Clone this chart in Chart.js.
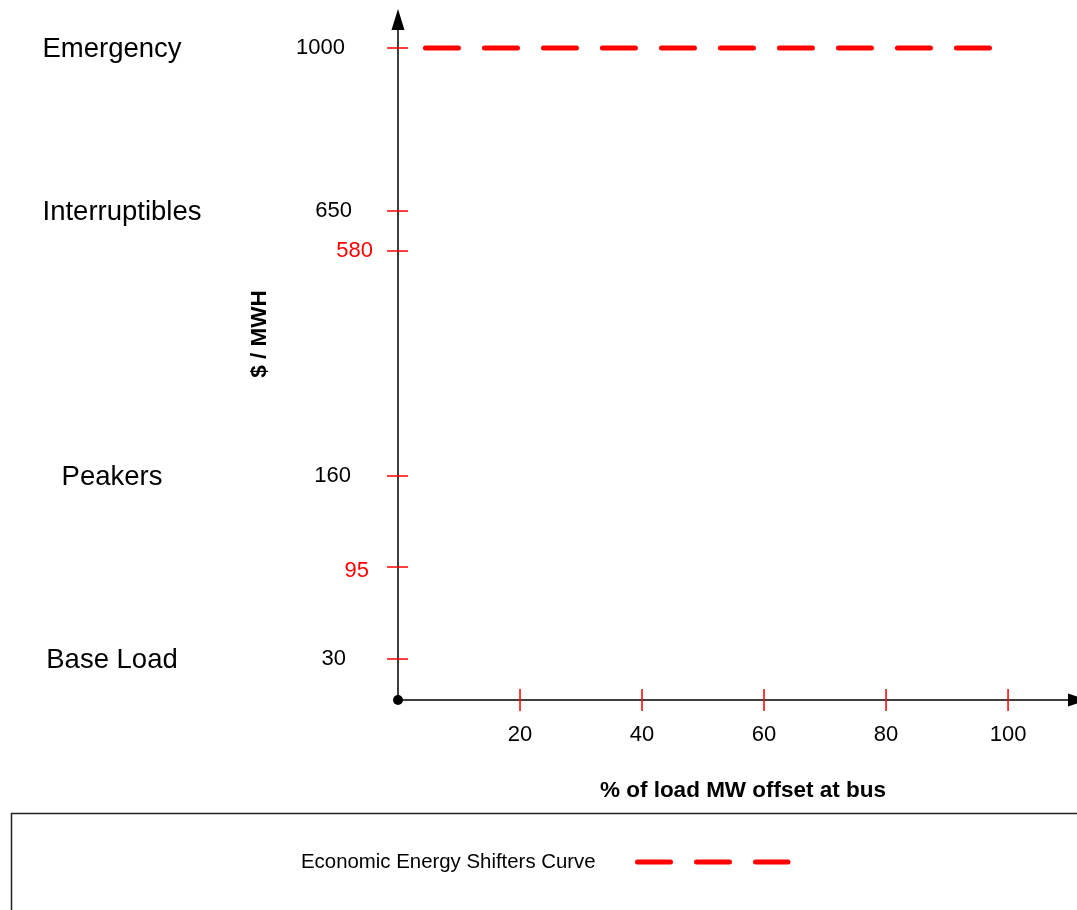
<!DOCTYPE html>
<html>
<head>
<meta charset="utf-8">
<script src="https://cdn.jsdelivr.net/npm/chart.js@4/dist/chart.umd.min.js"></script>
<style>
  body { margin: 0; background: #fff; }
  #wrap { width: 1077px; height: 910px; }
</style>
</head>
<body>
<div id="wrap"><canvas id="supplyChart" width="1077" height="910"></canvas></div>
<script>
// データ
const tierNames = ['Base Load', 'Peakers', 'Interruptibles', 'Emergency'];
const tierPrices = [30, 160, 650, 1000];
const markerPrices = [95, 580];          // 赤で示す価格
const xTicks = [20, 40, 60, 80, 100];
const curveLoad = [4.5, 97];             // % of load
const curvePrice = [1000, 1000];         // $ / MWH

// 軸の区切り（値 → 軸上の割合）、元の図の非線形な目盛に合わせる
const axisValues = [0, 30, 95, 160, 580, 650, 1000, 1120];
const axisFracs = [0, 0.0593, 0.1925, 0.3242, 0.6498, 0.7077, 0.9436, 1];

const FONT = '"Liberation Sans", Arial, sans-serif';
const RED = '#ff0000';

// 区分線形のスケール
class PiecewiseScale extends Chart.LinearScale {
    getPixelForValue(value) {
        let i = 1;
        while (i < axisValues.length - 1 && value > axisValues[i]) i++;
        const v0 = axisValues[i - 1], v1 = axisValues[i];
        const f0 = axisFracs[i - 1], f1 = axisFracs[i];
        const frac = f0 + (value - v0) / (v1 - v0) * (f1 - f0);
        return this.getPixelForDecimal(frac);
    }
    getValueForPixel(pixel) {
        const frac = this.getDecimalForPixel(pixel);
        let i = 1;
        while (i < axisFracs.length - 1 && frac > axisFracs[i]) i++;
        const f0 = axisFracs[i - 1], f1 = axisFracs[i];
        return axisValues[i - 1] + (frac - f0) / (f1 - f0) * (axisValues[i] - axisValues[i - 1]);
    }
}
PiecewiseScale.id = 'piecewise';
PiecewiseScale.defaults = Chart.LinearScale.defaults;
Chart.register(PiecewiseScale);

// ラベルの位置（スタイル）
const tierLabelX = [112, 112, 122, 112];
const tierValueRight = [346, 351, 352, 345];
const markerValueRight = [369, 373];

// 軸・目盛・ラベル・凡例を描くプラグイン
const axisPlugin = {
    id: 'axisPlugin',
    afterDraw(chart) {
        const ctx = chart.ctx;
        const xs = chart.scales.x, ys = chart.scales.y;
        const ox = xs.getPixelForValue(0), oy = ys.getPixelForValue(0);
        const top = chart.chartArea.top;
        ctx.save();

        // 軸線
        ctx.strokeStyle = '#000';
        ctx.fillStyle = '#000';
        ctx.lineWidth = 1.5;
        ctx.beginPath();
        ctx.moveTo(ox, oy); ctx.lineTo(ox, top + 18);
        ctx.moveTo(ox, oy); ctx.lineTo(1070, oy);
        ctx.stroke();
        // 矢印
        ctx.beginPath();
        ctx.moveTo(ox, top); ctx.lineTo(ox - 6.5, top + 21); ctx.lineTo(ox + 6.5, top + 21); ctx.closePath();
        ctx.fill();
        ctx.beginPath();
        ctx.moveTo(1088, oy); ctx.lineTo(1068, oy - 6.5); ctx.lineTo(1068, oy + 6.5); ctx.closePath();
        ctx.fill();
        // 原点
        ctx.beginPath();
        ctx.arc(ox, oy, 5, 0, Math.PI * 2);
        ctx.fill();

        // 目盛
        ctx.strokeStyle = RED;
        ctx.lineWidth = 1.5;
        ctx.beginPath();
        tierPrices.concat(markerPrices).forEach(v => {
            const y = ys.getPixelForValue(v);
            ctx.moveTo(ox - 11, y); ctx.lineTo(ox + 10, y);
        });
        xTicks.forEach(v => {
            const x = xs.getPixelForValue(v);
            ctx.moveTo(x, oy - 11); ctx.lineTo(x, oy + 11);
        });
        ctx.stroke();

        // 目盛ラベル
        ctx.textBaseline = 'middle';
        ctx.font = '22px ' + FONT;
        ctx.textAlign = 'right';
        ctx.fillStyle = '#000';
        tierPrices.forEach((v, i) => ctx.fillText(String(v), tierValueRight[i], ys.getPixelForValue(v)));
        ctx.fillStyle = RED;
        markerPrices.forEach((v, i) => ctx.fillText(String(v), markerValueRight[i], ys.getPixelForValue(v) + (v < 100 ? 4 : 0)));
        ctx.fillStyle = '#000';
        ctx.textAlign = 'center';
        xTicks.forEach(v => ctx.fillText(String(v), xs.getPixelForValue(v), oy + 35));

        // 区分名
        ctx.font = '27.5px ' + FONT;
        tierNames.forEach((name, i) => ctx.fillText(name, tierLabelX[i], ys.getPixelForValue(tierPrices[i]) + 1));

        // 軸タイトル
        ctx.font = 'bold 22.5px ' + FONT;
        ctx.fillText('% of load MW offset at bus', 743, 791);
        ctx.save();
        ctx.translate(260, 334);
        ctx.rotate(-Math.PI / 2);
        ctx.fillText('$ / MWH', 0, 0);
        ctx.restore();

        // 凡例
        ctx.strokeStyle = '#222';
        ctx.lineWidth = 1.5;
        ctx.strokeRect(11.5, 813.5, 1080, 120);
        ctx.font = '20.4px ' + FONT;
        ctx.textAlign = 'left';
        ctx.fillText(chart.data.datasets[0].label, 301, 862);
        ctx.strokeStyle = RED;
        ctx.lineWidth = 5;
        ctx.lineCap = 'round';
        ctx.setLineDash([33, 26]);
        ctx.beginPath();
        ctx.moveTo(637.5, 862); ctx.lineTo(788, 862);
        ctx.stroke();

        ctx.restore();
    }
};

new Chart(document.getElementById('supplyChart'), {
    type: 'line',
    data: {
        datasets: [{
            label: 'Economic Energy Shifters Curve',
            data: curveLoad.map((x, i) => ({ x: x, y: curvePrice[i] })),
            borderColor: RED,
            borderWidth: 5,
            borderDash: [33, 26],
            borderCapStyle: 'round',
            pointRadius: 0,
            fill: false
        }]
    },
    options: {
        responsive: false,
        animation: false,
        devicePixelRatio: 1,
        layout: { padding: { left: 398, right: 0, top: 9, bottom: 210 } },
        plugins: { legend: { display: false }, tooltip: { enabled: false } },
        scales: {
            x: { type: 'linear', min: 0, max: 111.3, display: false },
            y: { type: 'piecewise', min: 0, max: 1120, display: false }
        }
    },
    plugins: [axisPlugin]
});
</script>
</body>
</html>
